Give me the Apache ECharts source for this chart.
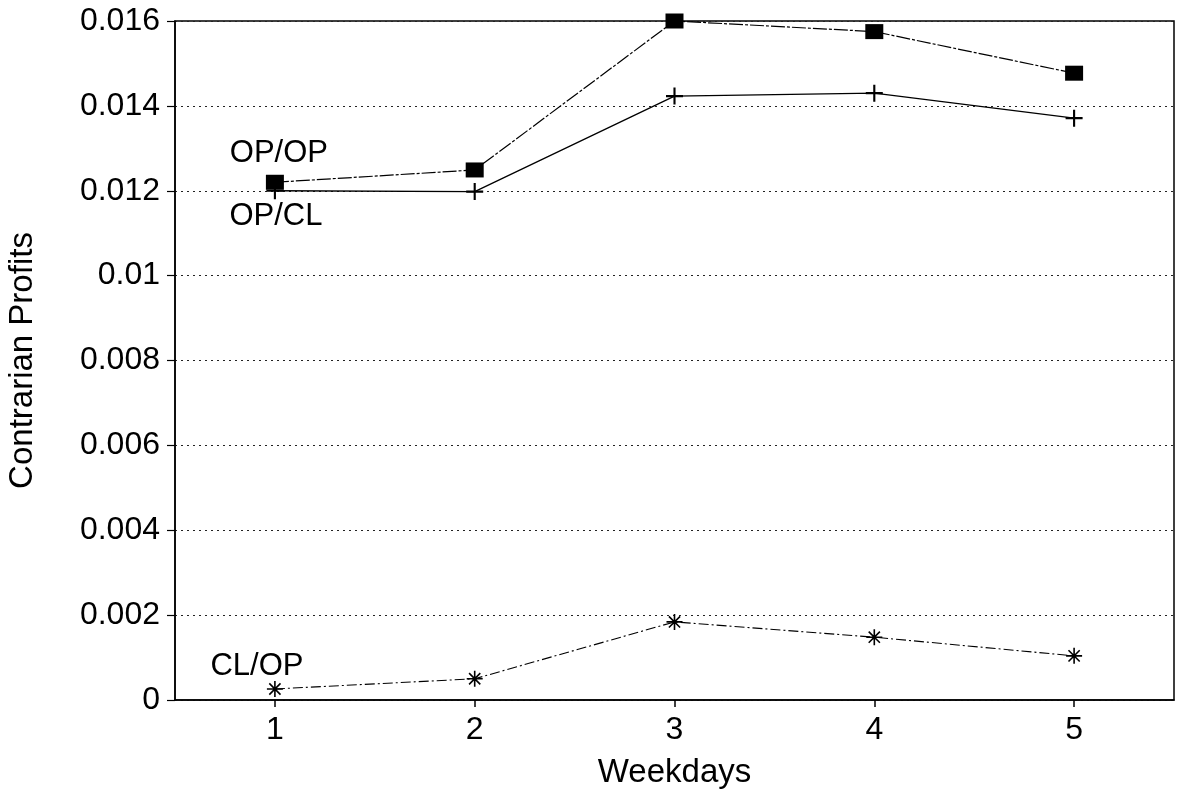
<!DOCTYPE html>
<html>
<head>
<meta charset="utf-8">
<title>Contrarian Profits by Weekday</title>
<script src="https://cdn.jsdelivr.net/npm/echarts@6/dist/echarts.min.js"></script>
<style>
  html, body { margin: 0; padding: 0; background: #fff; }
  #chart { width: 1180px; height: 794px; }
</style>
</head>
<body>
<div id="chart"></div>
<script>
// weekdays on the x axis
var weekdays = ['1', '2', '3', '4', '5'];

// values
var opOp = [0.0122, 0.01249, 0.0160, 0.01575, 0.01477];
var opCl = [0.0120, 0.01198, 0.01423, 0.0143, 0.01371];
var clOp = [0.00026, 0.0005, 0.00184, 0.00148, 0.00104];

var seriesNames = ['OP/OP', 'OP/CL', 'CL/OP'];

// marker shapes
var plusPath = 'path://M-1,-8 L1,-8 L1,-1 L8,-1 L8,1 L1,1 L1,8 L-1,8 L-1,1 L-8,1 L-8,-1 L-1,-1 Z';
var starPath = 'path://M-1,-10 L1,-10 L1,10 L-1,10 Z ' +
  'M-10,-1 L10,-1 L10,1 L-10,1 Z ' +
  'M-6.3,-7.7 L7.7,6.3 L6.3,7.7 L-7.7,-6.3 Z ' +
  'M7.7,-6.3 L-6.3,7.7 L-7.7,6.3 L6.3,-7.7 Z';

var font = 'Liberation Sans';

// first point carries the series name as its label
function withLabel(values, name, offset) {
  return values.map(function (v, i) {
    if (i !== 0) return v;
    return {
      value: v,
      label: {
        show: true,
        formatter: name,
        position: 'inside',
        offset: offset,
        color: '#000',
        fontFamily: font,
        fontSize: 31
      }
    };
  });
}

var chart = echarts.init(document.getElementById('chart'));

var option = {
  backgroundColor: '#fff',
  animation: false,
  grid: {
    left: 175,
    right: 6,
    top: 21,
    bottom: 94,
    outerBoundsMode: 'none',
    show: true,
    borderColor: '#000',
    borderWidth: 1.5,
    backgroundColor: 'transparent'
  },
  xAxis: {
    type: 'category',
    data: weekdays,
    boundaryGap: true,
    name: 'Weekdays',
    nameLocation: 'middle',
    nameGap: 56,
    nameTextStyle: { color: '#000', fontFamily: font, fontSize: 33 },
    axisLine: { show: true, lineStyle: { color: '#000', width: 1.5 } },
    axisTick: { show: true, alignWithLabel: true, length: 7, lineStyle: { color: '#000', width: 1.5 } },
    axisLabel: { color: '#000', fontFamily: font, fontSize: 32, margin: 14 },
    splitLine: { show: false }
  },
  yAxis: {
    type: 'value',
    min: 0,
    max: 0.016,
    interval: 0.002,
    name: 'Contrarian Profits',
    nameLocation: 'middle',
    nameGap: 136,
    nameTextStyle: { color: '#000', fontFamily: font, fontSize: 33 },
    axisLine: { show: true, lineStyle: { color: '#000', width: 1.5 } },
    axisTick: { show: true, length: 8, lineStyle: { color: '#000', width: 1.2 } },
    axisLabel: { color: '#000', fontFamily: font, fontSize: 32, margin: 15 },
    splitLine: { show: true, lineStyle: { color: '#222', width: 1, type: [2, 4] } }
  },
  series: [
    {
      name: seriesNames[0],
      type: 'line',
      data: withLabel(opOp, seriesNames[0], [4, -29]),
      symbol: 'rect',
      symbolSize: [18, 15],
      itemStyle: { color: '#000' },
      lineStyle: { color: '#000', width: 1.2, type: [14, 2, 3, 2] },
      z: 3
    },
    {
      name: seriesNames[1],
      type: 'line',
      data: withLabel(opCl, seriesNames[1], [1, 26]),
      symbol: plusPath,
      symbolSize: 17,
      itemStyle: { color: '#000' },
      lineStyle: { color: '#000', width: 1.3 },
      z: 3
    },
    {
      name: seriesNames[2],
      type: 'line',
      data: withLabel(clOp, seriesNames[2], [-18, -23]),
      symbol: starPath,
      symbolSize: 16,
      itemStyle: { color: '#000' },
      lineStyle: { color: '#000', width: 1.1, type: [10, 3, 2, 3] },
      z: 3
    }
  ]
};

chart.setOption(option);
</script>
</body>
</html>
